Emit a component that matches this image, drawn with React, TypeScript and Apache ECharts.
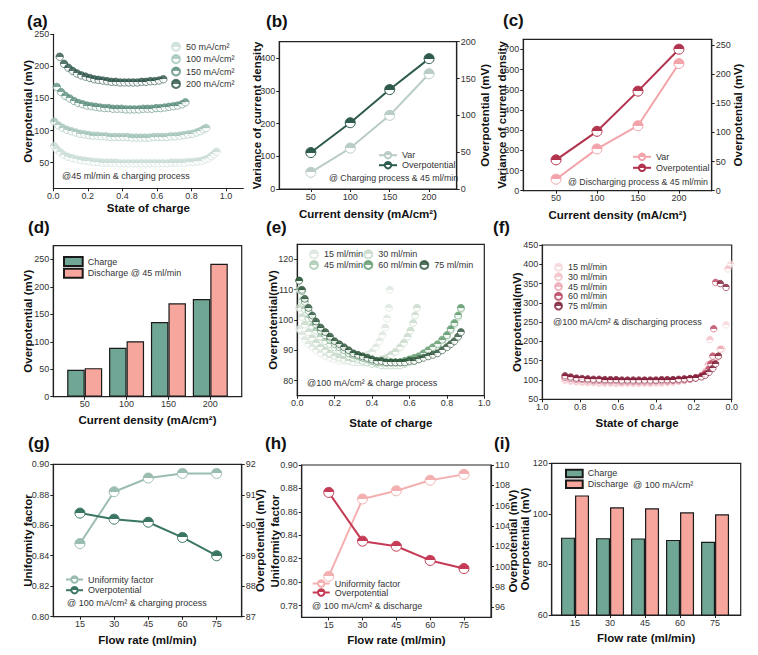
import { useEffect, useRef } from "react";
import * as echarts from "echarts";

const FONT = "'Liberation Sans', Arial, Helvetica, sans-serif";

// (a) overpotential vs state of charge, 45 ml/min, charging
const socA50 = [0.005, 0.02, 0.04, 0.06, 0.085, 0.11, 0.135, 0.16, 0.185, 0.21, 0.235, 0.26, 0.285, 0.31, 0.335, 0.36, 0.385, 0.41, 0.435, 0.46, 0.485, 0.51, 0.535, 0.56, 0.585, 0.61, 0.635, 0.66, 0.685, 0.71, 0.735, 0.76, 0.785, 0.81, 0.835, 0.86, 0.88, 0.9, 0.915, 0.93, 0.945];
const ovA50 = [76, 71, 66, 62, 59, 57, 55, 54, 53, 52, 51, 51, 50, 50, 50, 50, 49, 49, 49, 49, 49, 49, 49, 49, 49, 49, 49, 49, 50, 50, 50, 50, 51, 51, 52, 53, 55, 57, 60, 63, 67];
const socA100 = [0.005, 0.03, 0.055, 0.08, 0.105, 0.13, 0.155, 0.18, 0.205, 0.23, 0.255, 0.28, 0.305, 0.33, 0.355, 0.38, 0.405, 0.43, 0.455, 0.48, 0.505, 0.53, 0.555, 0.58, 0.605, 0.63, 0.655, 0.68, 0.705, 0.73, 0.755, 0.78, 0.805, 0.83, 0.85, 0.87, 0.885];
const ovA100 = [114, 108, 104, 101, 99, 97, 95, 94, 93, 92, 92, 91, 91, 90, 90, 90, 90, 90, 89, 89, 89, 89, 89, 90, 90, 90, 90, 91, 91, 92, 93, 94, 95, 97, 99, 102, 104];
const socA150 = [0.02, 0.045, 0.07, 0.095, 0.12, 0.145, 0.17, 0.195, 0.22, 0.245, 0.27, 0.295, 0.32, 0.345, 0.37, 0.395, 0.42, 0.445, 0.47, 0.495, 0.52, 0.545, 0.57, 0.595, 0.62, 0.645, 0.67, 0.695, 0.72, 0.745, 0.765];
const ovA150 = [168, 160, 154, 150, 146, 143, 141, 139, 138, 137, 136, 135, 135, 134, 134, 134, 133, 133, 133, 133, 134, 134, 134, 135, 135, 136, 137, 138, 139, 141, 144];
const socA200 = [0.037, 0.062, 0.087, 0.112, 0.137, 0.162, 0.187, 0.212, 0.237, 0.262, 0.287, 0.312, 0.337, 0.362, 0.387, 0.412, 0.437, 0.462, 0.487, 0.512, 0.537, 0.562, 0.587, 0.612, 0.637];
const ovA200 = [215, 204, 198, 193, 189, 186, 184, 182, 180, 179, 178, 177, 176, 176, 175, 175, 175, 175, 175, 176, 176, 177, 177, 178, 180];

// (b) (c) (d) current density sweep at 45 ml/min
const densities = [50, 100, 150, 200];
const varCharge = [51, 125, 225, 352];
const overCharge = [49.5, 90, 135, 177];
const varDischarge = [57, 207, 322, 630];
const overDischarge = [53, 102, 171, 243];
const barCharge = [49, 89, 136, 178];
const barDischarge = [52, 101, 170, 242];

// (e) charging at 100 mA/cm2, different flow rates
const socE15 = [0.01, 0.025, 0.04, 0.06, 0.08, 0.1, 0.125, 0.15, 0.175, 0.2, 0.225, 0.25, 0.275, 0.3, 0.325, 0.35, 0.375, 0.4, 0.42, 0.44, 0.455, 0.47, 0.48, 0.49, 0.495];
const e15 = [97, 95, 93.5, 92, 91, 90, 89, 88, 87.5, 87, 86.5, 86.5, 86.5, 86.5, 87, 87.5, 88.5, 89.5, 91, 93, 95, 97.5, 100.5, 104, 110];
const socE30 = [0.01, 0.025, 0.04, 0.06, 0.08, 0.1, 0.125, 0.15, 0.175, 0.2, 0.225, 0.25, 0.275, 0.3, 0.325, 0.35, 0.375, 0.4, 0.425, 0.45, 0.475, 0.5, 0.525, 0.55, 0.57, 0.59, 0.605, 0.62, 0.63, 0.64];
const e30 = [104, 101, 98.5, 96, 94, 92.5, 91, 90, 89, 88, 87.5, 87, 86.5, 86, 86, 86, 86, 86, 86.5, 87, 87.5, 88.5, 89.5, 91, 92.5, 94.5, 96.5, 99, 101.5, 104];
const socE = [0.01, 0.025, 0.04, 0.06, 0.08, 0.1, 0.125, 0.15, 0.175, 0.2, 0.225, 0.25, 0.275, 0.3, 0.325, 0.35, 0.375, 0.4, 0.425, 0.45, 0.475, 0.5, 0.525, 0.55, 0.575, 0.6, 0.625, 0.65, 0.675, 0.7, 0.725, 0.75, 0.775, 0.8, 0.82, 0.84, 0.86, 0.875];
const e45 = [110, 106.5, 103.5, 100.5, 98, 96.5, 94.5, 93, 92, 91, 90, 89, 88, 87.5, 87, 86.5, 86, 85.5, 85.5, 85, 85, 85, 85, 85, 85.5, 86, 86.5, 87, 88, 89, 90, 91, 92.5, 94.5, 96.5, 98.5, 101, 103.5];
const e60 = [113, 109.5, 106, 103, 100.5, 98.5, 96.5, 95, 93.5, 92, 91, 90, 89, 88.5, 88, 87.5, 87, 86.5, 86, 86, 86, 86, 86, 86, 86.5, 87, 87.5, 88, 89, 90, 91, 92, 93.5, 95, 97, 99, 101.5, 104];
const e75 = [113, 110, 107, 104, 101.5, 99.5, 97.5, 96, 94.5, 93, 92, 91, 90, 89, 88.5, 88, 87.5, 87, 86.5, 86.5, 86, 86, 86, 86, 86, 86.5, 86.5, 87, 87.5, 88, 88.5, 89, 90, 91, 92, 93, 94.5, 96];

// (f) discharging at 100 mA/cm2, different flow rates
const socF = [0.88, 0.85, 0.82, 0.79, 0.76, 0.73, 0.7, 0.67, 0.64, 0.61, 0.58, 0.55, 0.52, 0.49, 0.46, 0.43, 0.4, 0.37, 0.34, 0.31, 0.28, 0.25, 0.22];
const f15 = [98, 96, 95, 94, 93, 93, 92, 92, 92, 91, 91, 91, 91, 91, 91, 91, 92, 92, 93, 94, 96, 98, 101];
const f30 = [100, 98, 96, 95, 94, 94, 93, 93, 93, 92, 92, 92, 92, 92, 92, 92, 93, 93, 94, 95, 97, 99, 102];
const f45 = [103, 100, 98, 97, 96, 96, 95, 95, 95, 94, 94, 94, 94, 94, 94, 94, 95, 95, 96, 97, 98, 100, 102];
const f60 = [107, 104, 102, 101, 100, 99, 99, 98, 98, 98, 97, 97, 97, 97, 97, 97, 98, 98, 98, 99, 100, 101, 103];
const f75 = [111, 108, 105, 104, 103, 102, 102, 101, 101, 101, 100, 100, 100, 100, 100, 100, 100, 101, 101, 101, 102, 103, 104];
const f15Tail = [[0.19, 104], [0.16, 109], [0.13, 117], [0.11, 126], [0.09, 140], [0.07, 158], [0.05, 180], [0.03, 243], [0.005, 400]];
const f30Tail = [[0.19, 106], [0.16, 112], [0.14, 122], [0.125, 140], [0.115, 205], [0.02, 388]];
const f45Tail = [[0.19, 106], [0.16, 111], [0.14, 118], [0.12, 130], [0.1, 145], [0.08, 160], [0.06, 180]];
const f60Tail = [[0.19, 106], [0.16, 110], [0.14, 116], [0.12, 128], [0.11, 142], [0.1, 162], [0.095, 233], [0.085, 353]];
const f75Tail = [[0.19, 105], [0.16, 108], [0.14, 112], [0.12, 120], [0.1, 130], [0.085, 142], [0.07, 162], [0.06, 350], [0.03, 340]];

// (g) (h) (i) flow rate sweep at 100 mA/cm2
const flowRates = [15, 30, 45, 60, 75];
const uniformCharge = [0.848, 0.882, 0.891, 0.894, 0.894];
const overFlowCharge = [90.4, 90.2, 90.1, 89.6, 89.0];
const uniformDischarge = [0.805, 0.871, 0.878, 0.887, 0.892];
const overFlowDischarge = [107.3, 102.5, 102.0, 100.6, 99.8];
const barFlowCharge = [90.6, 90.4, 90.3, 89.7, 89.0];
const barFlowDischarge = [107.3, 102.6, 102.2, 100.6, 99.8];

// tick values
const socTicks = [0, 0.2, 0.4, 0.6, 0.8, 1.0];
const ticksA = [50, 100, 150, 200, 250];
const ticksBL = [0, 100, 200, 300, 400];
const ticksBR = [0, 50, 100, 150, 200];
const ticksCL = [0, 100, 200, 300, 400, 500, 600, 700];
const ticksCR = [0, 50, 100, 150, 200, 250];
const ticksD = [0, 50, 100, 150, 200, 250];
const ticksE = [80, 90, 100, 110, 120];
const ticksF = [50, 100, 150, 200, 250, 300, 350, 400, 450];
const ticksGL = [0.8, 0.82, 0.84, 0.86, 0.88, 0.9];
const ticksGR = [87, 88, 89, 90, 91, 92];
const ticksHL = [0.78, 0.8, 0.82, 0.84, 0.86, 0.88, 0.9];
const ticksHR = [96, 98, 100, 102, 104, 106, 108, 110];
const ticksI = [60, 80, 100, 120];

const legendText: Record<string, string> = {
  a50: "50 mA/cm²", a100: "100 mA/cm²", a150: "150 mA/cm²", a200: "200 mA/cm²",
  bVar: "Var", bOver: "Overpotential", cVar: "Var", cOver: "Overpotential",
  dCharge: "Charge", dDis: "Discharge @ 45 ml/min",
  e15: "15 ml/min", e30: "30 ml/min", e45: "45 ml/min", e60: "60 ml/min", e75: "75 ml/min",
  f15: "15 ml/min", f30: "30 ml/min", f45: "45 ml/min", f60: "60 ml/min", f75: "75 ml/min",
  gUni: "Uniformity factor", gOver: "Overpotential", hUni: "Uniformity factor", hOver: "Overpotential",
  iCharge: "Charge", iDis: "Discharge",
};

const GREEN_A = ["#c9ddd5", "#a3c4b9", "#5d8f80", "#2d544a"];
const GREEN_E = ["#dbe6dc", "#c6d9c8", "#a9c9b0", "#5e9a6c", "#2b5238"];
const RED_F = ["#f7d6d9", "#f3c0c6", "#eca6b0", "#b9435e", "#7a1831"];
const CHARGE = "#70a695";
const DISCHARGE = "#f6a69c";

const zip = (xs: number[], ys: number[]) => xs.map((x, i) => [x, ys[i]]);

const half = (c: string) =>
  new echarts.graphic.LinearGradient(0, 0, 0, 1, [
    { offset: 0, color: c },
    { offset: 0.5, color: c },
    { offset: 0.5, color: "#ffffff" },
    { offset: 1, color: "#ffffff" },
  ]);

const NAME_STYLE = { color: "#111", fontSize: 11.5, fontWeight: "bold", fontFamily: FONT };
const AXIS_LINE = { show: true, onZero: false, lineStyle: { color: "#222", width: 1.2 } };

function grid(left: number, top: number, width: number, height: number, box: boolean) {
  return { left, top, width, height, show: box, borderColor: "#222", borderWidth: 1.2, backgroundColor: "transparent" };
}

function xAx(gridIndex: number, min: number, max: number, ticks: number[], name: string, nameGap: number, digits = 0, inverse = false) {
  return {
    type: "value", gridIndex, min, max, inverse, name, nameGap, nameLocation: "middle", nameMoveOverlap: false, nameTextStyle: NAME_STYLE,
    axisLine: AXIS_LINE,
    axisTick: { show: true, length: 3, customValues: ticks, lineStyle: { color: "#222" } },
    axisLabel: { color: "#333", fontSize: 9, fontFamily: FONT, margin: 3, customValues: ticks, formatter: (v: number) => v.toFixed(digits) },
    splitLine: { show: false },
  };
}

function yAx(gridIndex: number, min: number, max: number, ticks: number[], name: string, nameGap: number, digits = 0, position = "left") {
  return {
    type: "value", gridIndex, min, max, position, name, nameGap, nameLocation: "middle", nameMoveOverlap: false, nameTextStyle: NAME_STYLE,
    axisLine: AXIS_LINE,
    axisTick: { show: true, length: 3, customValues: ticks, lineStyle: { color: "#222" } },
    axisLabel: { color: "#333", fontSize: 9, fontFamily: FONT, margin: 4, customValues: ticks, formatter: (v: number) => v.toFixed(digits) },
    splitLine: { show: false },
  };
}

function dots(name: string, data: number[][], color: string, xi: number, yi: number, size: number) {
  return {
    type: "scatter", name, data, xAxisIndex: xi, yAxisIndex: yi, symbolSize: size, silent: true,
    itemStyle: { color: half(color), borderColor: color, borderWidth: 0.8 },
  };
}

function line(name: string, xs: number[], ys: number[], color: string, xi: number, yi: number) {
  return {
    type: "line", name, data: zip(xs, ys), xAxisIndex: xi, yAxisIndex: yi, silent: true,
    symbol: "circle", symbolSize: 10,
    lineStyle: { color, width: 2 },
    itemStyle: { color: half(color), borderColor: color, borderWidth: 1 },
  };
}

function bars(name: string, xs: number[], ys: number[], color: string, xi: number, yi: number, w: number) {
  return {
    type: "bar", name, data: zip(xs, ys), xAxisIndex: xi, yAxisIndex: yi, silent: true,
    barWidth: w, barGap: "0%",
    itemStyle: { color, borderColor: "#1a1a1a", borderWidth: 1.2 },
  };
}

function legend(data: string[], left: number, top: number, itemWidth: number, itemHeight: number, itemGap: number, icon?: string) {
  return {
    data, left, top, itemWidth, itemHeight, itemGap, icon, orient: "vertical", padding: 0, selectedMode: false,
    formatter: (n: string) => legendText[n] ?? n,
    textStyle: { fontSize: 9, color: "#333", fontFamily: FONT },
  };
}

function label(text: string, x: number, y: number, size: number, bold: boolean) {
  return {
    type: "text", x, y, silent: true,
    style: { text, fontSize: size, fontWeight: bold ? "bold" : "normal", fontFamily: FONT, fill: bold ? "#111" : "#333", verticalAlign: "middle" },
  };
}

function buildOption() {
  return {
    animation: false,
    textStyle: { fontFamily: FONT },
    grid: [
      grid(53.3, 34.3, 190, 154, false),
      grid(279.3, 41.7, 177.4, 147.3, true),
      grid(523.3, 39.3, 188.4, 151.4, true),
      grid(53.3, 245.7, 188.4, 151, true),
      grid(297.3, 244.3, 187, 151.4, true),
      grid(542.3, 245, 189.4, 154.3, true),
      grid(53.3, 464.3, 188.4, 152.4, true),
      grid(301.7, 465, 189.3, 152.3, true),
      grid(551.7, 463.3, 189, 151.7, true),
    ],
    xAxis: [
      xAx(0, 0, 1.1, socTicks, "State of charge", 14, 1),
      xAx(1, 10, 235, densities, "Current density (mA/cm²)", 19),
      xAx(2, 10, 240, densities, "Current density (mA/cm²)", 18),
      xAx(3, 12.5, 237.5, densities, "Current density (mA/cm²)", 17),
      xAx(4, 0, 1, socTicks, "State of charge", 21, 1),
      xAx(5, 0, 1, socTicks, "State of charge", 18, 1, true),
      xAx(6, 3.3, 86, flowRates, "Flow rate (ml/min)", 17),
      xAx(7, 3, 87, flowRates, "Flow rate (ml/min)", 17),
      xAx(8, 5, 86, flowRates, "Flow rate (ml/min)", 17),
    ],
    yAxis: [
      yAx(0, 10, 250, ticksA, "Overpotential (mV)", 19.3),
      yAx(1, 0, 450, ticksBL, "Variance of current density", 16.3),
      yAx(1, 0, 200, ticksBR, "Overpotential (mV)", 22.3, 0, "right"),
      yAx(2, 0, 750, ticksCL, "Variance of current density", 15.3),
      yAx(2, 0, 260, ticksCR, "Overpotential (mV)", 20.3, 0, "right"),
      yAx(3, 0, 275, ticksD, "Overpotential (mV)", 19.3),
      yAx(4, 75, 125, ticksE, "Overpotential(mV)", 18.3),
      yAx(5, 50, 450, ticksF, "Overpotential(mV)", 19.3),
      yAx(6, 0.8, 0.9, ticksGL, "Uniformity factor", 19.3, 2),
      yAx(6, 87, 92, ticksGR, "Overpotential (mV)", 12.3, 0, "right"),
      yAx(7, 0.77, 0.9, ticksHL, "Uniformity factor", 20.7, 2),
      yAx(7, 95, 110, ticksHR, "Overpotential (mV)", 16, 0, "right"),
      yAx(8, 60, 120, ticksI, "Overpotential (mV)", 20.7),
    ],
    legend: [
      legend(["a50", "a100", "a150", "a200"], 171, 41.7, 10, 8, 2.4),
      legend(["bVar", "bOver"], 378, 150.7, 18, 8, 1),
      legend(["cVar", "cOver"], 632, 152.3, 18, 8, 2),
      legend(["dCharge", "dDis"], 63, 256, 18.7, 9, 0.7, "rect"),
      legend(["e15"], 309, 249.3, 10, 8, 0),
      legend(["e30"], 363.3, 249.3, 10, 8, 0),
      legend(["e45"], 309, 260, 10, 8, 0),
      legend(["e60"], 363.3, 260, 10, 8, 0),
      legend(["e75"], 419.3, 260, 10, 8, 0),
      legend(["f15", "f30", "f45", "f60", "f75"], 554, 262.7, 9, 7, 0.7),
      legend(["gUni", "gOver"], 65, 575, 17, 8, 1.7),
      legend(["hUni", "hOver"], 311.7, 579, 17, 8, 0),
      legend(["iCharge", "iDis"], 565, 468.7, 16.7, 7.5, 1.3, "rect"),
    ],
    series: [
      dots("a50", zip(socA50, ovA50), GREEN_A[0], 0, 0, 7.5),
      dots("a100", zip(socA100, ovA100), GREEN_A[1], 0, 0, 7.5),
      dots("a150", zip(socA150, ovA150), GREEN_A[2], 0, 0, 7.5),
      dots("a200", zip(socA200, ovA200), GREEN_A[3], 0, 0, 7.5),
      line("bVar", densities, varCharge, "#b9ccc5", 1, 1),
      line("bOver", densities, overCharge, "#2f5a4e", 1, 2),
      line("cVar", densities, varDischarge, "#f2a4aa", 2, 3),
      line("cOver", densities, overDischarge, "#b2334d", 2, 4),
      bars("dCharge", densities, barCharge, CHARGE, 3, 5, 17.5),
      bars("dDis", densities, barDischarge, DISCHARGE, 3, 5, 17.5),
      dots("e15", zip(socE15, e15), GREEN_E[0], 4, 6, 7),
      dots("e30", zip(socE30, e30), GREEN_E[1], 4, 6, 7),
      dots("e45", zip(socE, e45), GREEN_E[2], 4, 6, 7),
      dots("e60", zip(socE, e60), GREEN_E[3], 4, 6, 7),
      dots("e75", zip(socE, e75), GREEN_E[4], 4, 6, 7),
      dots("f15", zip(socF, f15).concat(f15Tail), RED_F[0], 5, 7, 6.5),
      dots("f30", zip(socF, f30).concat(f30Tail), RED_F[1], 5, 7, 6.5),
      dots("f45", zip(socF, f45).concat(f45Tail), RED_F[2], 5, 7, 6.5),
      dots("f60", zip(socF, f60).concat(f60Tail), RED_F[3], 5, 7, 6.5),
      dots("f75", zip(socF, f75).concat(f75Tail), RED_F[4], 5, 7, 6.5),
      line("gUni", flowRates, uniformCharge, "#9bbdb0", 6, 8),
      line("gOver", flowRates, overFlowCharge, "#3b7665", 6, 9),
      line("hUni", flowRates, uniformDischarge, "#f4b0b0", 7, 10),
      line("hOver", flowRates, overFlowDischarge, "#c53a55", 7, 11),
      bars("iCharge", flowRates, barFlowCharge, CHARGE, 8, 12, 14),
      bars("iDis", flowRates, barFlowDischarge, DISCHARGE, 8, 12, 14),
    ],
    graphic: [
      label("(a)", 27, 21, 17, true),
      label("(b)", 266, 21, 17, true),
      label("(c)", 503, 20, 17, true),
      label("(d)", 28, 227, 17, true),
      label("(e)", 266, 227, 17, true),
      label("(f)", 493, 227, 17, true),
      label("(g)", 28, 443, 17, true),
      label("(h)", 265, 443, 17, true),
      label("(i)", 494, 443, 17, true),
      label("@45 ml/min & charging process", 62, 176, 9, false),
      label("@ Charging process & 45 ml/min", 329, 178, 8.8, false),
      label("@ Discharging process & 45 ml/min", 568, 182, 8.8, false),
      label("@100 mA/cm² & charge process", 307, 383, 9, false),
      label("@100 mA/cm² & discharging process", 553, 322, 9, false),
      label("@ 100 mA/cm² & charging process", 67, 603, 9, false),
      label("@ 100 mA/cm² & discharge", 312, 606, 9, false),
      label("@ 100 mA/cm²", 633, 485, 9, false),
    ],
  };
}

export default function App() {
  const ref = useRef<HTMLDivElement>(null);

  useEffect(() => {
    if (!ref.current) return;
    const chart = echarts.init(ref.current, null, { renderer: "svg" });
    chart.setOption(buildOption() as any);
    return () => {
      chart.dispose();
    };
  }, []);

  return (
    <div
      ref={ref}
      style={{ position: "absolute", left: 0, top: 0, width: 758, height: 655, background: "#ffffff" }}
    />
  );
}
